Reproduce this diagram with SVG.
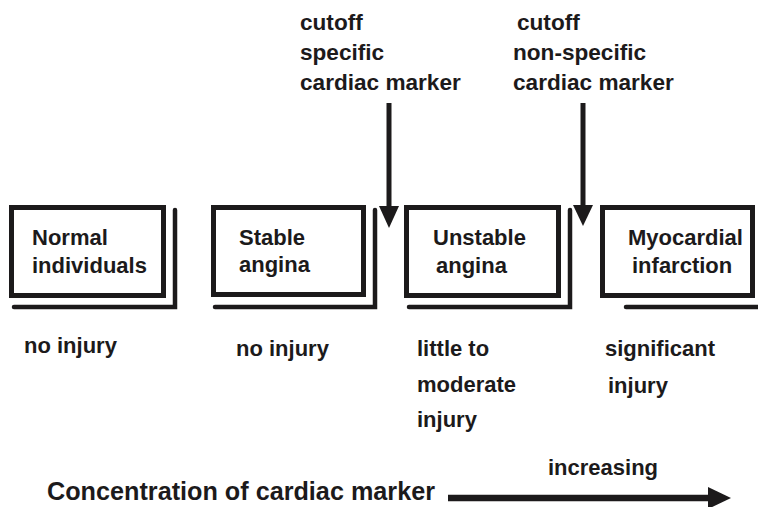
<svg xmlns="http://www.w3.org/2000/svg" width="758" height="507" viewBox="0 0 758 507">
<style>
text{font-family:"Liberation Sans",Arial,Helvetica,sans-serif;font-weight:bold;font-size:22px;fill:#1c1a1b}
.cut{font-size:22.6px}
.box{fill:#fff;stroke:#1c1a1b;stroke-width:5}
.sh{fill:none;stroke:#1c1a1b;stroke-width:4.5;stroke-linecap:round}
.ln{stroke:#1c1a1b;stroke-width:5;fill:none}
.hd{fill:#1c1a1b}
</style>
<rect width="758" height="507" fill="#fff"/>
<g id="normal">
<rect class="box" x="11.5" y="207.5" width="152" height="88"/>
<path class="sh" d="M175,210 V307 H14"/>
<text x="32" y="245">Normal</text>
<text x="32" y="273">individuals</text>
</g>
<g id="stable">
<rect class="box" x="213.5" y="207.5" width="150" height="87"/>
<path class="sh" d="M375,210 V307 H215"/>
<text x="239" y="245">Stable</text>
<text x="239" y="272">angina</text>
</g>
<g id="unstable">
<rect class="box" x="406.5" y="207.5" width="152" height="88"/>
<path class="sh" d="M570,210 V307 H409"/>
<text x="433" y="245">Unstable</text>
<text x="436" y="273">angina</text>
</g>
<g id="mi">
<rect class="box" x="602.5" y="207.5" width="150" height="88"/>
<path class="sh" d="M764,210 V307 H626"/>
<text x="628" y="245">Myocardial</text>
<text x="632" y="273">infarction</text>
</g>
<g id="cutoff1">
<text class="cut" x="300" y="30">cutoff</text>
<text class="cut" x="300" y="60">specific</text>
<text class="cut" x="300" y="90">cardiac marker</text>
</g>
<g id="cutoff2">
<text class="cut" x="517" y="30">cutoff</text>
<text class="cut" x="513" y="60">non-specific</text>
<text class="cut" x="513" y="90">cardiac marker</text>
</g>
<g id="injury-labels">
<text x="24" y="353">no injury</text>
<text x="236" y="356">no injury</text>
<text x="417" y="356">little to</text>
<text x="417" y="392">moderate</text>
<text x="417" y="427">injury</text>
<text x="605" y="356">significant</text>
<text x="608" y="393">injury</text>
</g>
<g id="connectors">
<line class="ln" x1="389" y1="103" x2="389" y2="210"/>
<polygon class="hd" points="379,206 399,206 389,228"/>
<line class="ln" x1="583" y1="103" x2="583" y2="210"/>
<polygon class="hd" points="573,205 593,205 583,226"/>
<line class="ln" x1="448" y1="498" x2="712" y2="498" style="stroke-width:6.5"/>
<polygon class="hd" points="708,487 731,498 708,509"/>
</g>
<g id="axis">
<text x="47" y="500" style="font-size:25px" textLength="388" lengthAdjust="spacingAndGlyphs">Concentration of cardiac marker</text>
<text x="548" y="475">increasing</text>
</g>
</svg>
